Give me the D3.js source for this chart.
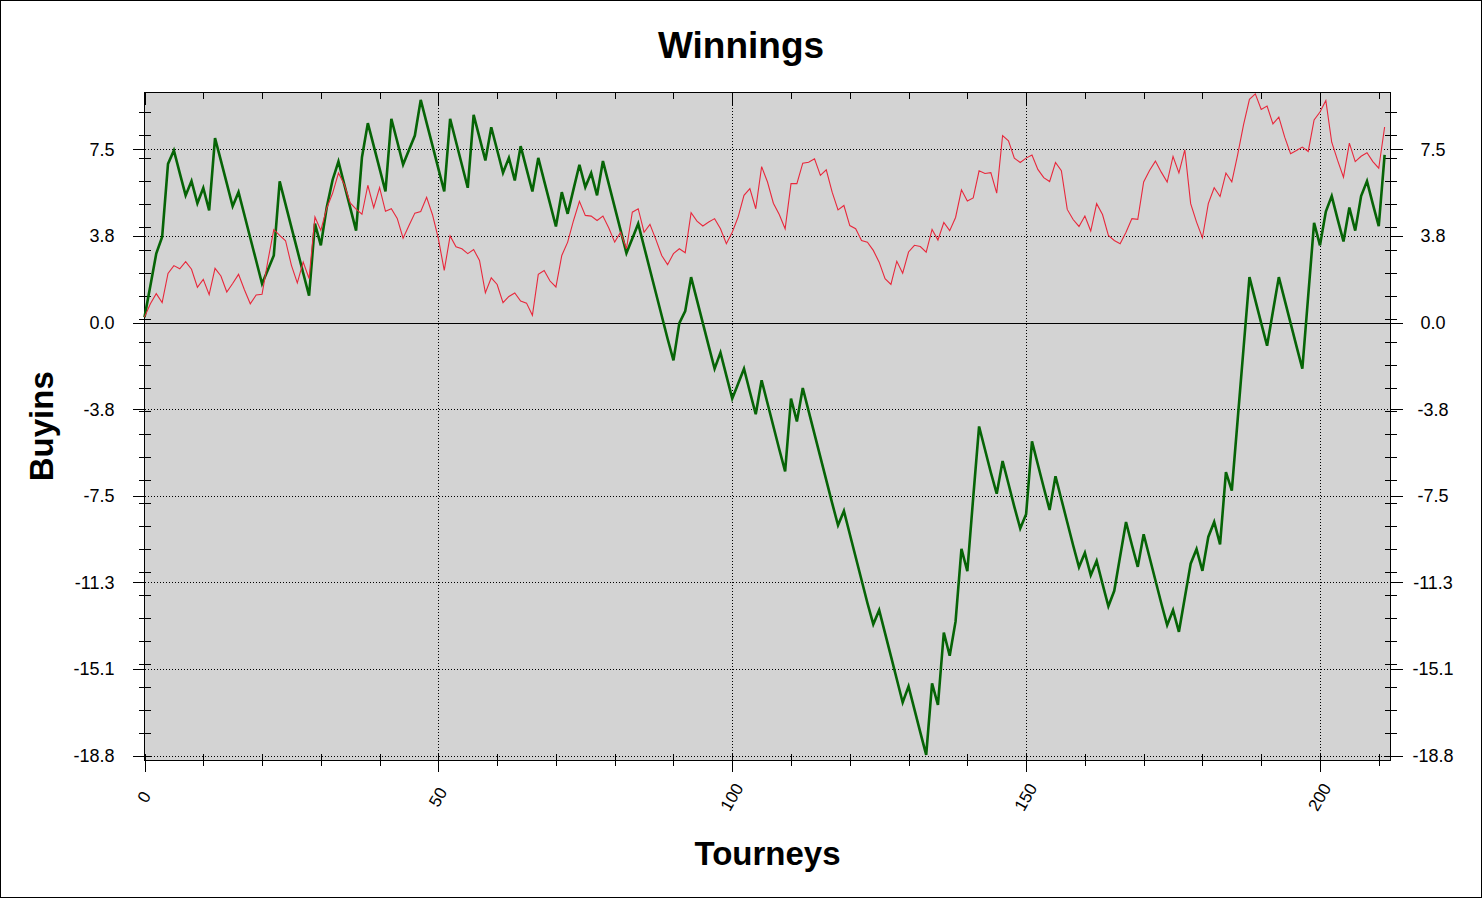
<!DOCTYPE html>
<html><head><meta charset="utf-8">
<script src="https://cdn.jsdelivr.net/npm/d3@7"></script>
<style>
html,body{margin:0;padding:0;background:#fff;}
svg{display:block;font-family:"Liberation Sans",Arial,Helvetica,sans-serif;}
</style></head>
<body><svg id="c" width="1482" height="898"></svg>
<script>
// ---- data (tourney index 0..211) ----
const winnings = [
0.24,1.6,3.0,3.72,6.9,7.48,6.5,5.53,6.15,5.19,
5.85,4.88,8.02,7.04,6.05,5.06,5.67,4.68,3.68,2.69,
1.69,2.3,2.92,6.14,5.14,4.14,3.15,2.16,1.17,4.3,
3.36,5.0,6.2,7.0,6.0,5.0,4.0,7.19,8.67,7.68,
6.69,5.7,8.86,7.87,6.87,7.5,8.13,9.68,8.68,7.69,
6.69,5.7,8.86,7.86,6.86,5.86,9.03,8.04,7.05,8.49,
7.5,6.51,7.16,6.18,7.67,6.68,5.7,7.16,6.16,5.17,
4.18,5.67,4.73,5.8,6.86,5.89,6.5,5.53,7.02,6.02,
5.02,4.02,3.02,3.66,4.3,3.3,2.3,1.3,0.3,-0.7,
-1.64,-0.02,0.5,1.98,0.98,-0.02,-1.02,-2.0,-1.3,-2.3,
-3.3,-2.65,-2.0,-3.0,-3.98,-2.5,-3.5,-4.5,-5.5,-6.46,
-3.3,-4.29,-2.84,-3.84,-4.84,-5.84,-6.84,-7.84,-8.8,-8.18,
-9.18,-10.18,-11.18,-12.18,-13.1,-12.49,-13.49,-14.49,-15.49,-16.5,
-15.8,-16.8,-17.8,-18.78,-15.67,-16.61,-13.46,-14.47,-12.98,-9.83,
-10.8,-7.6,-4.51,-5.51,-6.51,-7.43,-6.01,-7.0,-8.0,-8.94,
-8.32,-5.16,-6.16,-7.16,-8.14,-6.67,-7.67,-8.67,-9.67,-10.62,
-10.0,-10.97,-10.35,-11.35,-12.32,-11.65,-10.15,-8.66,-9.66,-10.61,
-9.19,-10.19,-11.19,-12.19,-13.14,-12.49,-13.43,-11.95,-10.47,-9.84,
-10.78,-9.31,-8.66,-9.63,-6.49,-7.3,-4.2,-1.1,1.98,0.98,
-0.02,-1.0,0.5,1.98,0.98,-0.02,-1.02,-2.0,1.17,4.34,
3.36,4.83,5.5,4.5,3.53,5.0,4.0,5.5,6.15,5.15,
4.19,7.29
];
const winningsRed = [
0.24,0.82,1.26,0.87,2.14,2.48,2.34,2.65,2.32,1.54,
1.88,1.22,2.36,2.03,1.33,1.7,2.1,1.43,0.82,1.2,
1.23,2.7,4.04,3.79,3.56,2.49,1.73,2.63,1.92,4.59,
4.01,4.97,5.62,6.5,6.0,5.2,4.93,4.71,5.97,5.0,
5.87,4.84,4.95,4.53,3.67,4.22,4.76,4.83,5.45,4.69,
3.65,2.27,3.77,3.3,3.21,3.0,3.18,2.7,1.3,1.95,
1.66,0.87,1.14,1.29,0.94,0.85,0.32,2.1,2.27,1.81,
1.55,2.92,3.5,4.44,5.27,4.66,4.63,4.44,4.63,4.11,
3.5,3.93,3.21,4.8,4.95,3.93,4.27,3.62,2.92,2.52,
3.0,3.21,3.04,4.78,4.41,4.2,4.37,4.52,4.08,3.43,
3.93,4.59,5.53,5.82,4.95,6.78,6.11,5.19,4.7,4.08,
6.04,6.04,6.93,6.97,7.12,6.4,6.64,5.67,4.9,5.09,
4.22,4.08,3.57,3.5,3.14,2.63,1.91,1.66,2.67,2.15,
3.07,3.36,3.31,3.06,4.05,3.59,4.35,4.0,4.57,5.77,
5.29,5.42,6.6,6.48,6.52,5.63,8.13,7.9,7.15,6.96,
7.15,7.28,6.66,6.3,6.13,6.96,6.6,4.92,4.48,4.18,
4.63,3.98,5.17,4.7,3.79,3.57,3.43,3.93,4.52,4.49,
6.11,6.61,7.02,6.54,6.11,7.22,6.51,7.51,5.17,4.37,
3.69,5.17,5.86,5.48,6.5,6.12,7.3,8.6,9.7,9.94,
9.26,9.41,8.64,8.93,8.06,7.34,7.48,7.63,7.44,8.81,
9.15,9.65,7.84,7.05,6.32,7.8,7.0,7.23,7.38,7.0,
6.71,8.5
];
const yTickValues = [7.525, 3.7625, 0, -3.7625, -7.525, -11.2875, -15.05, -18.8125];
const yTickLabels = ["7.5", "3.8", "0.0", "-3.8", "-7.5", "-11.3", "-15.1", "-18.8"];
const yMinorTicks = [-18.83,-17.83,-16.83,-15.83,-14.83,-13.83,-12.83,-11.83,-10.83,-9.83,-8.83,-7.83,-6.83,-5.83,-4.83,-3.83,-2.83,-1.83,-0.83,0.17,1.17,2.17,3.17,4.17,5.17,6.17,7.17,8.17,9.17];
const xTickValues = [0, 50, 100, 150, 200];
const xTickLabels = ["0", "50", "100", "150", "200"];
const xMinorTicks = [0,10,20,30,40,50,60,70,80,90,100,110,120,130,140,150,160,170,180,190,200,210];

// ---- layout ----
const W = 1482, H = 898;
const L = 144.5, R = 1390.5, T = 92.5, B = 760;
const svg = d3.select('#c');
const x = d3.scaleLinear().domain([0, 212]).range([L, R]);
const y = d3.scaleLinear().domain([-19, 10]).range([B, T]);

svg.append('rect').attr('x', 0.5).attr('y', 0.5).attr('width', W - 1).attr('height', H - 1)
  .attr('fill', '#fff').attr('stroke', '#000').attr('stroke-width', 1);

svg.append('rect').attr('x', L).attr('y', T).attr('width', R - L).attr('height', B - T)
  .attr('fill', '#d3d3d3');

// grid
const grid = svg.append('g').attr('stroke', '#000').attr('stroke-width', 1).attr('stroke-dasharray', '1,2').attr('shape-rendering', 'crispEdges');
grid.selectAll('line.h').data(yTickValues.filter(v => v !== 0)).join('line')
  .attr('x1', L).attr('x2', R).attr('y1', d => Math.round(y(d)) + 0.5).attr('y2', d => Math.round(y(d)) + 0.5);
grid.selectAll('line.v').data(xTickValues.filter(v => v !== 0)).join('line')
  .attr('class', 'v')
  .attr('y1', T).attr('y2', B).attr('x1', d => Math.round(x(d)) + 0.5).attr('x2', d => Math.round(x(d)) + 0.5);

// zero line
svg.append('line').attr('x1', L - 12).attr('x2', R + 12)
  .attr('y1', Math.round(y(0)) + 0.5).attr('y2', Math.round(y(0)) + 0.5)
  .attr('stroke', '#000').attr('shape-rendering', 'crispEdges');

// plot border
svg.append('rect').attr('x', L).attr('y', T).attr('width', R - L).attr('height', B - T)
  .attr('fill', 'none').attr('stroke', '#000').attr('shape-rendering', 'crispEdges');

function styleAxis(g) {
  g.select('.domain').remove();
  g.selectAll('line').attr('stroke', '#000').attr('shape-rendering', 'crispEdges');
  g.selectAll('text').attr('fill', '#000');
}

// left axis
svg.append('g').attr('transform', `translate(${L},0)`)
  .call(d3.axisLeft(y).tickValues(yMinorTicks).tickSize(6).tickFormat('')).call(styleAxis);
svg.append('g').attr('transform', `translate(${L},0)`)
  .call(d3.axisLeft(y).tickValues(yMinorTicks).tickSize(-6).tickFormat('')).call(styleAxis);
svg.append('g').attr('transform', `translate(${L},0)`)
  .call(d3.axisLeft(y).tickValues(yTickValues).tickSize(12).tickPadding(18)
    .tickFormat((d, i) => yTickLabels[i]))
  .call(styleAxis)
  .call(g => g.selectAll('text').attr('font-size', 18).attr('font-family', '"Liberation Sans",Arial,sans-serif'));

// right axis
svg.append('g').attr('transform', `translate(${R},0)`)
  .call(d3.axisRight(y).tickValues(yMinorTicks).tickSize(6).tickFormat('')).call(styleAxis);
svg.append('g').attr('transform', `translate(${R},0)`)
  .call(d3.axisRight(y).tickValues(yMinorTicks).tickSize(-6).tickFormat('')).call(styleAxis);
svg.append('g').attr('transform', `translate(${R},0)`)
  .call(d3.axisRight(y).tickValues(yTickValues).tickSize(12)
    .tickFormat((d, i) => yTickLabels[i]))
  .call(styleAxis)
  .call(g => g.selectAll('text').attr('font-size', 18).attr('text-anchor', 'middle').attr('x', 1433 - R)
    .attr('font-family', '"Liberation Sans",Arial,sans-serif'));

// bottom axis
svg.append('g').attr('transform', `translate(0,${B})`)
  .call(d3.axisBottom(x).tickValues(xMinorTicks).tickSize(6).tickFormat('')).call(styleAxis);
svg.append('g').attr('transform', `translate(0,${B})`)
  .call(d3.axisBottom(x).tickValues(xMinorTicks).tickSize(-6).tickFormat('')).call(styleAxis);
svg.append('g').attr('transform', `translate(0,${B})`)
  .call(d3.axisBottom(x).tickValues(xTickValues).tickSize(12)
    .tickFormat((d, i) => xTickLabels[i]))
  .call(styleAxis)
  .call(g => g.selectAll('text').attr('font-size', 17).attr('font-family', '"Liberation Sans",Arial,sans-serif')
    .attr('x', 0).attr('y', 0).attr('dy', '0.35em').attr('text-anchor', 'middle')
    .attr('transform', 'translate(-1,37) rotate(-60)'));

// top axis (ticks inside)
svg.append('g').attr('transform', `translate(0,${T})`)
  .call(d3.axisTop(x).tickValues(xMinorTicks).tickSize(-6).tickFormat('')).call(styleAxis);
svg.append('g').attr('transform', `translate(0,${T})`)
  .call(d3.axisTop(x).tickValues(xTickValues).tickSize(-12).tickFormat('')).call(styleAxis);

// series
const line = d3.line().x((d, i) => x(i)).y(d => y(d));
svg.append('path').datum(winnings).attr('d', line)
  .attr('fill', 'none').attr('stroke', '#066406').attr('stroke-width', 2.6).attr('stroke-linejoin', 'miter');
svg.append('path').datum(winningsRed).attr('d', line)
  .attr('fill', 'none').attr('stroke', '#e8283c').attr('stroke-width', 1.1).attr('stroke-linejoin', 'miter');

// titles
svg.append('text').attr('x', 741).attr('y', 58).attr('text-anchor', 'middle')
  .attr('font-size', 37).attr('font-weight', 'bold').attr('fill', '#000').text('Winnings');
svg.append('text').attr('x', (L + R) / 2).attr('y', 865).attr('text-anchor', 'middle')
  .attr('font-size', 33).attr('font-weight', 'bold').attr('fill', '#000').text('Tourneys');
svg.append('text').attr('transform', `translate(53,${(T + B) / 2}) rotate(-90)`).attr('text-anchor', 'middle')
  .attr('font-size', 33).attr('font-weight', 'bold').attr('fill', '#000').text('Buyins');
</script>
</body></html>
